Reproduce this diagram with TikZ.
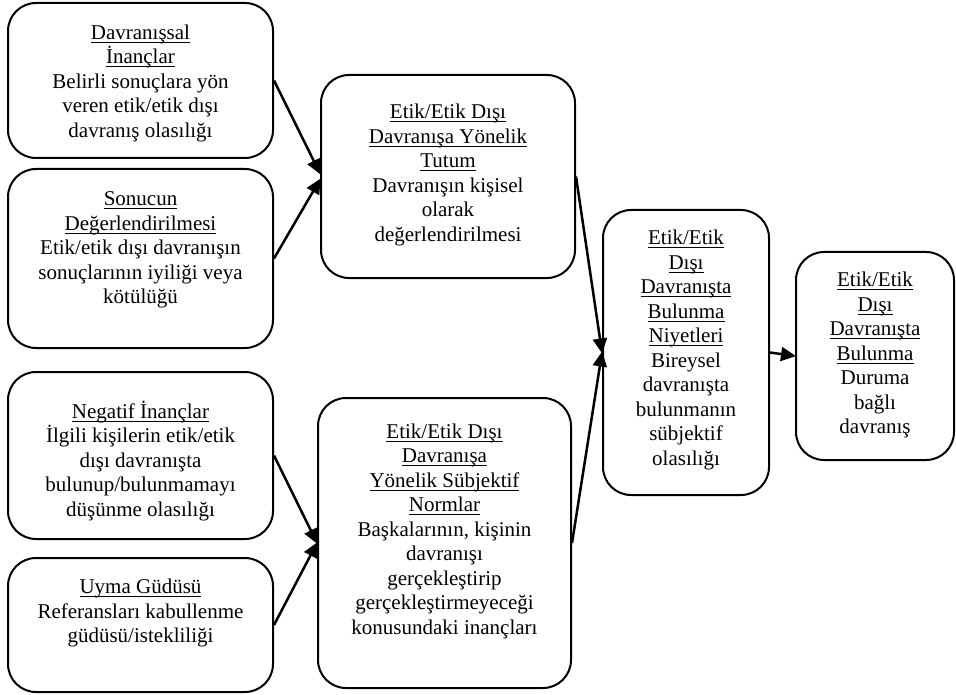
\documentclass[tikz,border=0pt]{standalone}
\usepackage{fontspec}
\setmainfont{Liberation Serif}
\usetikzlibrary{arrows.meta}

% underline with a fixed offset below the baseline
\newcommand\uln[1]{\setbox0\hbox{#1}\rlap{\rule[-3.6pt]{\wd0}{1.1pt}}\box0}

\tikzset{
  box/.style={draw=black, line width=2pt, rounded corners=28pt, fill=white, inner sep=0pt},
  txt/.style={align=center, inner sep=0pt, font=\fontsize{21}{24.5}\selectfont},
  arr/.style={line width=2.5pt, -{Triangle[length=15pt,width=14pt]}, shorten >=-1pt}
}

\begin{document}
\begin{tikzpicture}[x=1pt,y=-1pt]
\useasboundingbox (0,0) rectangle (956,695);

% boxes
\node[box, minimum width=265pt, minimum height=155pt] (A) at (140.5,80.5) {};
\node[box, minimum width=265pt, minimum height=179pt] (B) at (140.5,258.5) {};
\node[box, minimum width=265pt, minimum height=167pt] (C) at (140.5,455.5) {};
\node[box, minimum width=265pt, minimum height=134pt] (D) at (140.5,625) {};
\node[box, minimum width=254pt, minimum height=203pt] (E) at (448,176.5) {};
\node[box, minimum width=253pt, minimum height=290pt] (F) at (444.5,543) {};
\node[box, minimum width=166pt, minimum height=285pt] (G) at (686,352.5) {};
\node[box, minimum width=158pt, minimum height=208pt] (H) at (875,356) {};

% texts
\node[txt] (At) at (140.5,83) {\uln{Davranışsal}\\\uln{İnançlar}\\Belirli sonuçlara yön\\veren etik/etik dışı\\davranış olasılığı};
\node[txt] (Bt) at (140.5,250) {\uln{Sonucun}\\\uln{Değerlendirilmesi}\\Etik/etik dışı davranışın\\sonuçlarının iyiliği veya\\kötülüğü};
\node[txt] (Ct) at (140.5,461) {\uln{Negatif İnançlar}\\İlgili kişilerin etik/etik\\dışı davranışta\\bulunup/bulunmamayı\\düşünme olasılığı};
\node[txt] (Dt) at (140.5,613) {\uln{Uyma Güdüsü}\\Referansları kabullenme\\güdüsü/istekliliği};
\node[txt] (Et) at (448,175) {\uln{Etik/Etik Dışı}\\\uln{Davranışa Yönelik}\\\uln{Tutum}\\Davranışın kişisel\\olarak\\değerlendirilmesi};
\node[txt] (Ft) at (444.5,531) {\uln{Etik/Etik Dışı}\\\uln{Davranışa}\\\uln{Yönelik Sübjektif}\\\uln{Normlar}\\Başkalarının, kişinin\\davranışı\\gerçekleştirip\\gerçekleştirmeyeceği\\konusundaki inançları};
\node[txt] (Gt) at (686,350) {\uln{Etik/Etik}\\\uln{Dışı}\\\uln{Davranışta}\\\uln{Bulunma}\\\uln{Niyetleri}\\Bireysel\\davranışta\\bulunmanın\\sübjektif\\olasılığı};
\node[txt] (Ht) at (875,355) {\uln{Etik/Etik}\\\uln{Dışı}\\\uln{Davranışta}\\\uln{Bulunma}\\Duruma\\bağlı\\davranış};

% connectors
\draw[arr] (A.east) -- ([yshift=3pt]E.west);
\draw[arr] (B.east) -- ([yshift=-3pt]E.west);
\draw[arr] (C.east) -- (F.west);
\draw[arr] (D.east) -- (F.west);
\draw[arr] (E.east) -- (G.west);
\draw[arr] (F.east) -- (G.west);
\draw[arr] (G.east) -- (H.west);
\end{tikzpicture}
\end{document}
